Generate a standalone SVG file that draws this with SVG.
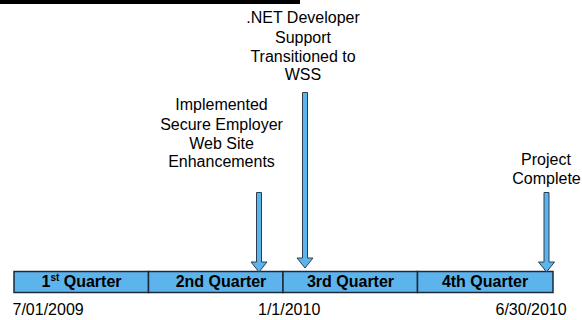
<svg xmlns="http://www.w3.org/2000/svg" width="582" height="320" viewBox="0 0 582 320">
  <style>
    .lbl { font-family: "Liberation Sans", Arial, sans-serif; font-size: 16px; fill: #000; text-anchor: middle; }
    .date { font-family: "Liberation Sans", Arial, sans-serif; font-size: 16px; fill: #000; }
    .q { font-family: "Liberation Sans", Arial, sans-serif; font-size: 16px; font-weight: bold; fill: #000; text-anchor: middle; }
    .seg { fill: #5DB4EC; stroke: #1C2A38; stroke-width: 1.5; }
    .arrow { fill: #5DB4EC; stroke: #2E3E4E; stroke-width: 1; }
  </style>

  <!-- header rule -->
  <rect x="0" y="0" width="300" height="4" fill="#000"/>

  <!-- quarter bar -->
  <g id="q1"><rect class="seg" x="14" y="271.5" width="134.5" height="21"/>
    <text class="q" x="81.5" y="287">1<tspan font-size="10" dy="-6">st</tspan><tspan dy="6"> Quarter</tspan></text></g>
  <g id="q2"><rect class="seg" x="148.5" y="271.5" width="134.5" height="21"/>
    <text class="q" x="221" y="287">2nd Quarter</text></g>
  <g id="q3"><rect class="seg" x="283" y="271.5" width="134.5" height="21"/>
    <text class="q" x="350.5" y="287">3rd Quarter</text></g>
  <g id="q4"><rect class="seg" x="417.5" y="271.5" width="135.5" height="21"/>
    <text class="q" x="485" y="287">4th Quarter</text></g>

  <!-- dates -->
  <g id="dates">
    <text class="date" x="12.5" y="315">7/01/2009</text>
    <text class="date" x="258" y="315">1/1/2010</text>
    <text class="date" x="495.5" y="315">6/30/2010</text>
  </g>

  <!-- milestone labels -->
  <g id="m-secure">
    <text class="lbl" x="221.5" y="110">Implemented</text>
    <text class="lbl" x="221.5" y="130">Secure Employer</text>
    <text class="lbl" x="221.5" y="149">Web Site</text>
    <text class="lbl" x="221.5" y="167">Enhancements</text>
  </g>
  <g id="m-net">
    <text class="lbl" x="303" y="23">.NET Developer</text>
    <text class="lbl" x="303" y="43">Support</text>
    <text class="lbl" x="303" y="62">Transitioned to</text>
    <text class="lbl" x="303" y="80">WSS</text>
  </g>
  <g id="m-complete">
    <text class="lbl" x="546" y="165">Project</text>
    <text class="lbl" x="546.5" y="184">Complete</text>
  </g>

  <!-- connectors: block arrows pointing down to the bar -->
  <g id="connectors">
    <path class="arrow" d="M256.5,192.5 H261.5 V262 H267 L259,272 L251,262 H256.5 Z"/>
    <path class="arrow" d="M302.5,92.5 H307.5 V258 H313 L305,268 L297,258 H302.5 Z"/>
    <path class="arrow" d="M544,192.5 H549 V262 H554.5 L546.5,272 L538.5,262 H544 Z"/>
  </g>
</svg>
